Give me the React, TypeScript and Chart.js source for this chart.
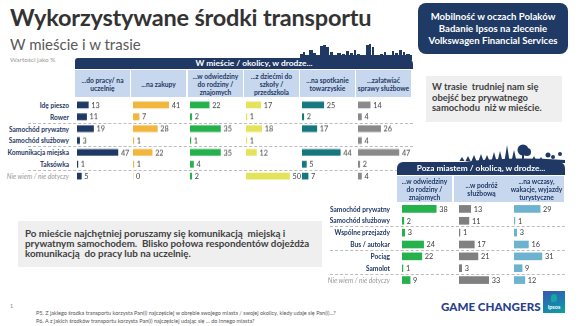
import React, { useEffect, useRef } from "react";
import { Chart, registerables } from "chart.js";

Chart.register(...registerables);

// ---------- DATA ----------
const cityRows = ["Idę pieszo", "Rower", "Samochód prywatny", "Samochód służbowy", "Komunikacja miejska", "Taksówka", "Nie wiem / nie dotyczy"];
const cityCols = [
  ["...do pracy/ na", "uczelnię"],
  ["...na zakupy"],
  ["...w odwiedziny", "do rodziny /", "znajomych"],
  ["...z dziećmi do", "szkoły /", "przedszkola"],
  ["...na spotkanie", "towarzyskie"],
  ["...załatwiać", "sprawy służbowe"],
];
const cityWork = [13, 11, 19, 3, 47, 1, 5];
const cityShopping = [41, 7, 28, 1, 22, 1, 0];
const cityFamily = [22, 2, 35, 1, 35, 4, 2];
const citySchool = [17, 1, 18, 1, 12, null, 50];
const citySocial = [25, 2, 17, null, 44, 5, 7];
const cityBusiness = [14, 4, 26, 4, 47, 2, 4];

const tripRows = ["Samochód prywatny", "Samochód służbowy", "Wspólne przejazdy", "Bus / autokar", "Pociąg", "Samolot", "Nie wiem / nie dotyczy"];
const tripCols = [
  ["...w odwiedziny", "do rodziny /", "znajomych"],
  ["...w podróż", "służbową"],
  ["...na wczasy,", "wakacje, wyjazdy", "turystyczne"],
];
const tripFamily = [38, 2, 3, 24, 22, 1, 9];
const tripBusiness = [13, 11, 1, 17, 21, 3, 33];
const tripHoliday = [29, 1, 3, 16, 31, 9, 12];

const cityData = [cityWork, cityShopping, cityFamily, citySchool, citySocial, cityBusiness];
const cityColors = ["#1f3864", "#f0b63e", "#25b14c", "#e4e45c", "#17777f", "#8a8a8a"];
const tripData = [tripFamily, tripBusiness, tripHoliday];
const tripColors = ["#25b14c", "#808080", "#6db3cf"];

const FONT = "Lato, 'Open Sans', sans-serif";
const NAVY = "#1f3864";

const valueLabels = {
  id: "valueLabels",
  afterDatasetsDraw(chart: any) {
    const ctx = chart.ctx;
    chart.data.datasets.forEach((ds: any, di: number) => {
      const meta = chart.getDatasetMeta(di);
      meta.data.forEach((bar: any, i: number) => {
        const v = ds.data[i];
        if (v === null || v === undefined) return;
        ctx.save();
        ctx.font = "7.3px " + FONT;
        ctx.fillStyle = "#404040";
        ctx.textBaseline = "middle";
        ctx.textAlign = "left";
        ctx.fillText(String(v), bar.x + 3, bar.y + 0.5);
        ctx.restore();
      });
    });
  },
};

function BarColumn(props: { left: number; top: number; width: number; height: number; labels: string[]; values: (number | null)[]; color: string; max: number; thickness: number }) {
  const ref = useRef<HTMLCanvasElement>(null);
  useEffect(() => {
    if (!ref.current) return;
    const chart = new Chart(ref.current, {
      type: "bar",
      data: {
        labels: props.labels,
        datasets: [
          {
            data: props.values as any,
            backgroundColor: props.color,
            barThickness: props.thickness,
            borderWidth: 0,
          },
        ],
      },
      options: {
        indexAxis: "y",
        animation: false,
        responsive: false,
        devicePixelRatio: 1,
        layout: { padding: 0 },
        plugins: { legend: { display: false }, tooltip: { enabled: false } },
        scales: {
          x: { display: false, min: 0, max: props.max },
          y: { display: false },
        },
      },
      plugins: [valueLabels],
    });
    return () => chart.destroy();
  }, []);
  return (
    <canvas
      ref={ref}
      width={props.width}
      height={props.height}
      style={{ position: "absolute", left: props.left, top: props.top, width: props.width, height: props.height }}
    />
  );
}

function Abs(props: { x: number; y: number; w?: number; h?: number; style?: any; children?: any }) {
  return (
    <div style={{ position: "absolute", left: props.x, top: props.y, width: props.w, height: props.h, ...props.style }}>
      {props.children}
    </div>
  );
}

const skyline: [number, number, number][] = [
  [300, 3, 54], [303, 2, 52], [305, 3, 55], [309, 4, 50], [313, 3, 53], [316, 2, 55], [320, 3, 46], [323, 3, 45], [326, 3, 47],
  [330, 3, 52], [334, 2, 55], [337, 4, 53], [342, 3, 54], [346, 3, 51], [350, 3, 53], [354, 2, 50], [357, 3, 54], [362, 2, 55],
  [366, 3, 45], [369, 2, 44], [372, 2, 47], [375, 3, 55], [380, 3, 54], [384, 2, 52], [388, 3, 55], [392, 2, 51], [395, 3, 53],
  [399, 3, 50], [403, 2, 52], [406, 4, 54], [410, 2, 55],
];

export default function App() {
  const cityColX = [75, 131, 188, 244, 300, 356];
  const cityColW = 55;
  const cityRowTop = 105;
  const cityStep = 11.83;
  const tripColX = [397, 454, 509];
  const tripColW = 55;
  const tripRowTop = 208.5;
  const tripStep = 11.9;

  const headCell = { background: "#c6d7ee", color: NAVY, fontWeight: 700, fontSize: 6.7, lineHeight: "8px", textAlign: "center", display: "flex", flexDirection: "column", justifyContent: "center", whiteSpace: "nowrap" };
  const rowLabel = (i: number) => ({ textAlign: "right", fontSize: 6.6, lineHeight: "10px", whiteSpace: "nowrap", fontWeight: i === 6 ? 400 : 700, fontStyle: i === 6 ? "italic" : "normal", color: i === 6 ? "#999" : NAVY });

  return (
    <div style={{ position: "fixed", left: 0, top: 0, width: 580, height: 326, background: "#fff", fontFamily: FONT, overflow: "hidden" }}>
      {/* Title */}
      <Abs x={10} y={3} style={{ fontSize: 23.5, fontWeight: 700, color: "#333", whiteSpace: "nowrap", letterSpacing: -0.2, lineHeight: "28px" }}>
        Wykorzystywane środki transportu
      </Abs>
      <Abs x={10} y={35} style={{ fontSize: 15, color: "#595959", whiteSpace: "nowrap", lineHeight: "18px" }}>
        W mieście i w trasie
      </Abs>
      <Abs x={10} y={56} style={{ fontSize: 6.5, color: "#999", whiteSpace: "nowrap", lineHeight: "8px" }}>
        Wartości jako %
      </Abs>

      {/* top right box */}
      <Abs x={418} y={3} w={150} h={51} style={{ background: "#203a66", borderRadius: 8, color: "#fff", fontWeight: 700, fontSize: 9.6, lineHeight: "12px", textAlign: "center", display: "flex", flexDirection: "column", justifyContent: "center", whiteSpace: "nowrap" }}>
        <div>Mobilność w oczach Polaków</div>
        <div>Badanie Ipsos na zlecenie</div>
        <div>Volkswagen Financial Services</div>
      </Abs>

      {/* skyline & trees */}
      <svg style={{ position: "absolute", left: 0, top: 0 }} width={580} height={326}>
        {skyline.map((b, i) => (
          <rect key={i} x={b[0]} y={b[2]} width={b[1]} height={60 - b[2]} fill={NAVY} />
        ))}
        <rect x={300} y={55} width={112} height={4} fill={NAVY} />
        <path d="M455 163 Q500 156 565 160 L565 163 Z" fill={NAVY} />
        {[[462, 4], [468, 5], [474, 6], [481, 7], [487, 6], [494, 9], [500, 10], [507, 16], [514, 11], [534, 5], [541, 4]].map((t, i) => (
          <polygon key={"t" + i} points={`${t[0] - 2.5},161 ${t[0] + 2.5},161 ${t[0]},${161 - t[1]}`} fill={NAVY} />
        ))}
        <circle cx={523} cy={150} r={5.5} fill={NAVY} />
        <circle cx={527} cy={152} r={4} fill={NAVY} />
        <rect x={522} y={154} width={2} height={7} fill={NAVY} />
        <circle cx={548} cy={155} r={2.5} fill={NAVY} />
        <circle cx={553} cy={157} r={2} fill={NAVY} />
        <circle cx={560} cy={154} r={2} fill={NAVY} />
      </svg>

      {/* top header bar */}
      <Abs x={75} y={58} w={338} h={11} style={{ background: NAVY, borderRadius: "3px 6px 0 0", color: "#fff", fontWeight: 700, fontSize: 8.4, lineHeight: "11px", textAlign: "center", paddingLeft: 20, boxSizing: "border-box", whiteSpace: "nowrap" }}>
        W mieście / okolicy, w drodze...
      </Abs>
      {cityCols.map((lines, i) => (
        <Abs key={"cc" + i} x={cityColX[i]} y={70} w={cityColW} h={27} style={headCell}>
          {lines.map((l, j) => (
            <div key={j}>{l}</div>
          ))}
        </Abs>
      ))}
      {cityRows.map((r, i) => (
        <Abs key={"cr" + i} x={0} y={cityRowTop + i * cityStep - 5} w={69} h={10} style={rowLabel(i)}>
          {r}
        </Abs>
      ))}
      {[1, 3, 5].map((k) => (
        <Abs key={"cd" + k} x={28} y={cityRowTop + (k + 0.5) * cityStep} w={385} h={0} style={{ borderTop: "1px dashed #bcbcbc" }} />
      ))}
      {cityData.map((vals, i) => (
        <BarColumn key={"cb" + i} left={cityColX[i] + 2} top={cityRowTop - cityStep / 2} width={62} height={cityStep * 7} labels={cityRows} values={vals} color={cityColors[i]} max={62 / 0.87} thickness={6} />
      ))}

      {/* right text box */}
      <Abs x={426} y={76} w={136} h={46} style={{ background: "#efefef", color: "#404040", fontWeight: 700, fontSize: 9.4, lineHeight: "10.6px", padding: "6px 0 0 6px", boxSizing: "border-box", whiteSpace: "pre" }}>
        {"W trasie  trudniej nam się\nobejść bez prywatnego\nsamochodu  niż w mieście."}
      </Abs>

      {/* bottom panel */}
      <Abs x={397} y={162} w={168} h={13} style={{ background: NAVY, borderRadius: "6px 6px 0 0", color: "#fff", fontWeight: 700, fontSize: 8.3, lineHeight: "13px", textAlign: "center", whiteSpace: "nowrap" }}>
        Poza miastem / okolicą, w drodze...
      </Abs>
      {tripCols.map((lines, i) => (
        <Abs key={"tc" + i} x={tripColX[i]} y={176} w={tripColW} h={26} style={headCell}>
          {lines.map((l, j) => (
            <div key={j}>{l}</div>
          ))}
        </Abs>
      ))}
      {tripRows.map((r, i) => (
        <Abs key={"tr" + i} x={290} y={tripRowTop + i * tripStep - 5} w={100} h={10} style={rowLabel(i)}>
          {r}
        </Abs>
      ))}
      {[1, 3, 5].map((k) => (
        <Abs key={"td" + k} x={330} y={tripRowTop + (k + 0.5) * tripStep} w={235} h={0} style={{ borderTop: "1px dashed #bcbcbc" }} />
      ))}
      {tripData.map((vals, i) => (
        <BarColumn key={"tb" + i} left={tripColX[i] + 5} top={tripRowTop - tripStep / 2} width={60} height={tripStep * 7} labels={tripRows} values={vals} color={tripColors[i]} max={60 / 0.9} thickness={7} />
      ))}

      {/* bottom-left text box */}
      <Abs x={18} y={221} w={304} h={46} style={{ background: "#efefef", color: "#404040", fontWeight: 700, fontSize: 9.8, lineHeight: "10px", padding: "7px 0 0 7px", boxSizing: "border-box", whiteSpace: "pre" }}>
        {"Po mieście najchętniej poruszamy się komunikacją  miejską i\nprywatnym samochodem.  Blisko połowa respondentów dojeżdża\nkomunikacją  do pracy lub na uczelnię."}
      </Abs>

      {/* footnotes */}
      <Abs x={10} y={303} style={{ fontSize: 5.5, color: "#888" }}>1</Abs>
      <Abs x={36} y={310} style={{ fontSize: 5.5, color: "#555", whiteSpace: "nowrap", lineHeight: "7.5px" }}>
        <div>P5. Z jakiego środka transportu korzysta Pan(i) najczęściej w obrębie swojego miasta / swojej okolicy, kiedy udaje się Pan(i)...?</div>
        <div>P6. A z jakich środków transportu korzysta Pan(i) najczęściej udając się ... do innego miasta?</div>
      </Abs>

      {/* logos */}
      <Abs x={441} y={300} style={{ fontSize: 11.6, fontWeight: 900, color: "#2b3f8f", whiteSpace: "nowrap", lineHeight: "14px" }}>
        GAME CHANGERS
      </Abs>
      <Abs x={543} y={291} w={22} h={22} style={{ background: "linear-gradient(160deg, #3a55b0 0%, #1a7fb0 55%, #0aa39c 100%)", color: "#fff", fontSize: 5.5, fontWeight: 700, textAlign: "center" }}>
        <div style={{ width: 6, height: 8, background: "#13a89e", borderRadius: "3px 3px 3px 0", margin: "3px auto 0" }} />
        <div style={{ lineHeight: "8px", marginTop: 1 }}>Ipsos</div>
      </Abs>
    </div>
  );
}
